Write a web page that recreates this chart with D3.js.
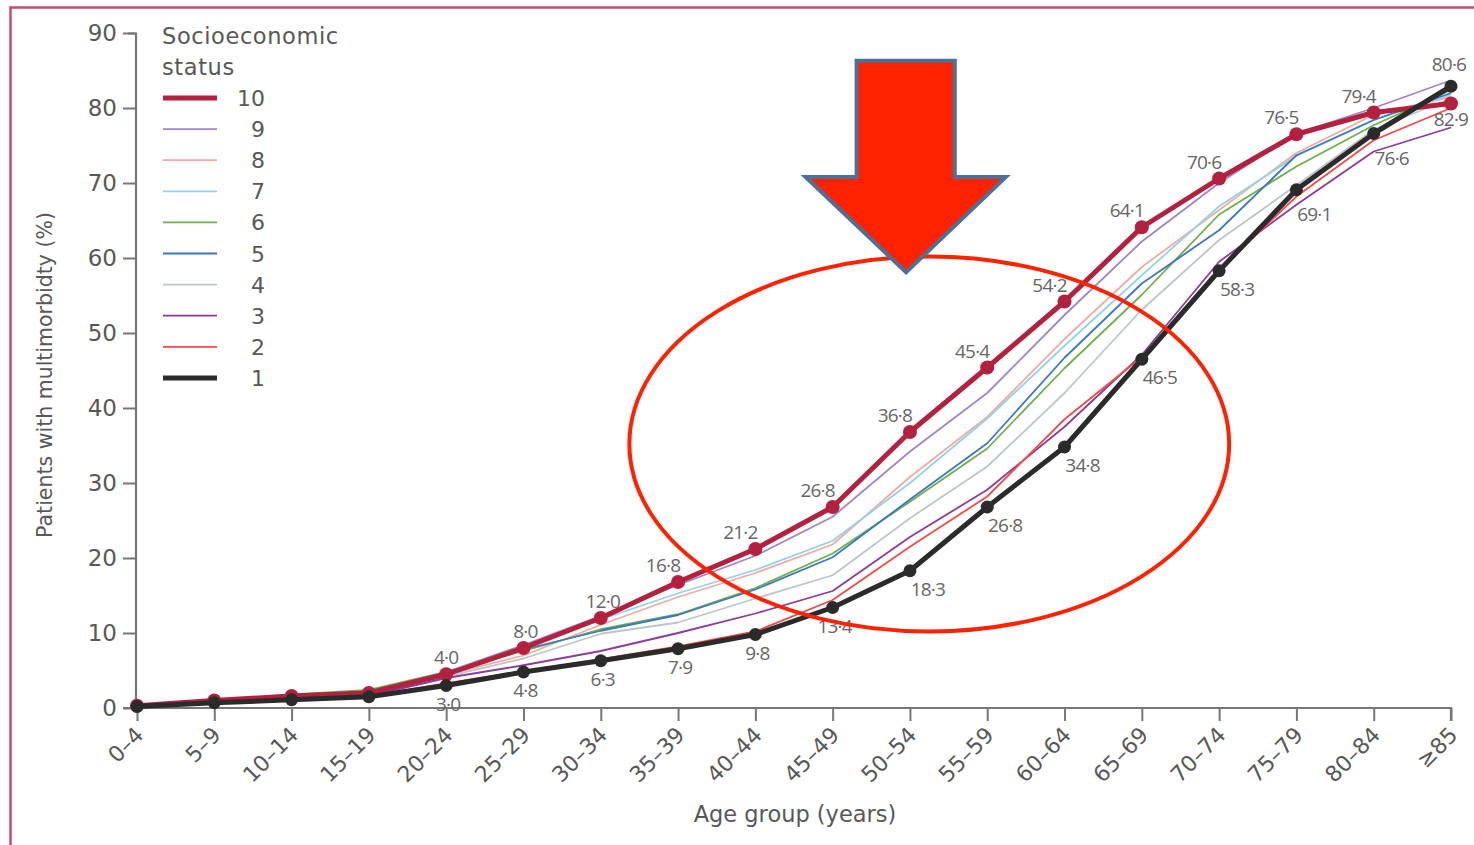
<!DOCTYPE html>
<html><head><meta charset="utf-8">
<script src="https://cdn.jsdelivr.net/npm/d3@7/dist/d3.min.js"></script>
<style>
html,body{margin:0;padding:0;background:#fff;}
svg{display:block;font-family:"DejaVu Sans",sans-serif;}
</style></head><body>
<script>
const ages = ["0–4","5–9","10–14","15–19","20–24","25–29","30–34","35–39","40–44","45–49","50–54","55–59","60–64","65–69","70–74","75–79","80–84","≥85"];
const yTicks = [0,10,20,30,40,50,60,70,80,90];
const seriesNames = ["10","9","8","7","6","5","4","3","2","1"];
const ses10 = [0.3,1.0,1.6,2.0,4.5,8.0,12.0,16.8,21.2,26.8,36.8,45.4,54.2,64.1,70.6,76.5,79.4,80.6];
const ses9  = [0.3,1.0,1.6,2.1,4.8,8.4,12.3,16.4,20.3,25.5,34.2,42.0,52.4,62.2,70.0,76.6,80.0,83.7];
const ses8  = [0.3,0.9,1.4,1.9,4.4,7.0,11.1,14.8,18.0,21.8,30.8,38.8,49.2,58.8,66.4,74.0,79.1,81.5];
const ses7  = [0.3,1.0,1.6,2.0,4.8,8.0,11.8,15.3,18.4,22.3,30.0,38.6,48.3,57.7,66.9,73.6,78.4,81.8];
const ses6  = [0.3,1.0,1.8,2.4,4.8,7.6,10.5,12.5,16.0,20.6,27.5,34.6,45.3,55.1,65.8,72.2,77.7,82.4];
const ses5  = [0.3,1.1,1.6,2.2,4.6,7.8,10.3,12.4,15.8,20.1,27.8,35.3,46.7,56.6,63.7,73.7,78.4,82.0];
const ses4  = [0.2,0.9,1.4,1.8,4.2,6.6,9.9,11.4,14.6,17.7,25.3,32.2,42.0,53.1,62.4,69.7,77.1,81.3];
const ses3  = [0.2,0.8,1.2,1.6,4.0,5.7,7.6,10.0,12.6,15.6,22.8,29.1,37.5,47.1,59.5,67.1,74.2,77.4];
const ses2  = [0.2,0.7,1.1,1.5,3.3,4.9,6.5,8.2,10.2,14.4,21.5,28.2,38.5,46.8,58.4,68.2,75.7,80.0];
const ses1  = [0.2,0.7,1.1,1.5,3.0,4.8,6.3,7.9,9.8,13.4,18.3,26.8,34.8,46.5,58.3,69.1,76.6,82.9];
const labels10 = ["","","","","4·0","8·0","12·0","16·8","21·2","26·8","36·8","45·4","54·2","64·1","70·6","76·5","79·4","82·9"];
const labels1  = ["","","","","3·0","4·8","6·3","7·9","9·8","13·4","18·3","26·8","34·8","46·5","58·3","69·1","76·6","80·6"];
const colors = ["#b3213f","#9f86c9","#f2aaa2","#92d3ea","#6cb14a","#3b78c1","#bcc6ca","#8d3a9b","#f24a45","#2b2b2b"];

const allSeries = [ses10,ses9,ses8,ses7,ses6,ses5,ses4,ses3,ses2,ses1];
const W = 1474, H = 845;
const svg = d3.select("body").append("svg").attr("width",W).attr("height",H);

// frame and (cut) slide title
svg.append("text").attr("x",728).attr("y",5).attr("text-anchor","middle")
  .attr("font-family","Liberation Sans, Arial, sans-serif").attr("font-weight","bold")
  .attr("font-size",40).attr("fill","#000").text("Results");
svg.append("rect").attr("x",0).attr("y",0).attr("width",W).attr("height",7).attr("fill","#fff");
svg.append("path").attr("d",`M10.5,${H} L10.5,7.5 L${W},7.5`).attr("fill","none")
  .attr("stroke","#cc4a72").attr("stroke-width",2.5);

const x = d3.scalePoint().domain(ages).range([137,1451]);
const xi = d3.scaleLinear().domain([0,ages.length-1]).range([137,1451]);
const y = d3.scaleLinear().domain([0,90]).range([708,33]);

const axisColor = "#777", textColor = "#585858";

// y axis
const gy = svg.append("g").attr("transform","translate(136,0)")
  .call(d3.axisLeft(y).tickValues(yTicks).tickSize(13).tickPadding(6));
gy.select(".domain").attr("stroke",axisColor).attr("stroke-width",2.2).attr("d","M-8,33.5H0V708");
gy.selectAll(".tick line").attr("stroke",axisColor).attr("stroke-width",2);
gy.selectAll(".tick text").attr("fill",textColor).attr("font-size",23).attr("font-family","DejaVu Sans, sans-serif");

// x axis
const gx = svg.append("g").attr("transform","translate(0,708)")
  .call(d3.axisBottom(x).tickSize(13).tickPadding(6));
gx.select(".domain").attr("stroke",axisColor).attr("stroke-width",2.2).attr("d","M123,0H1451V13");
gx.selectAll(".tick line").attr("stroke",axisColor).attr("stroke-width",2);
gx.selectAll(".tick text").attr("fill",textColor).attr("font-size",22).attr("font-family","DejaVu Sans, sans-serif")
  .attr("text-anchor","end").attr("x",0).attr("y",0).attr("dy","0.35em")
  .attr("transform","translate(2,23) rotate(-45)");

// axis titles
svg.append("text").attr("x",795).attr("y",822).attr("text-anchor","middle")
  .attr("font-size",22.5).attr("fill",textColor).text("Age group (years)");
svg.append("text").attr("transform","translate(52,375) rotate(-90)").attr("text-anchor","middle")
  .attr("font-size",20.5).attr("fill",textColor).text("Patients with multimorbidty (%)");

// lines
const line = d3.line().x((d,i)=>x(ages[i])).y(d=>y(d));
const order = [1,2,3,4,5,6,7,8,0,9];
order.forEach(k=>{
  const thick = (k===0||k===9);
  svg.append("path").datum(allSeries[k]).attr("d",line).attr("fill","none")
    .attr("stroke",colors[k]).attr("stroke-width",thick?5:1.8).attr("stroke-linejoin","round");
  if(thick){
    svg.append("g").selectAll("circle").data(allSeries[k]).join("circle")
      .attr("cx",(d,i)=>x(ages[i])).attr("cy",d=>y(d)).attr("r",k===0?7:6.5).attr("fill",colors[k]);
  }
});

// data labels
const lblFont = 19, lblColor = "#666", lblFam = "Open Sans, sans-serif";
svg.append("g").selectAll("text").data(ses10).join("text")
  .attr("x",(d,i)=> x(ages[i]) + (i===17 ? 0 : i<5 ? 0 : i<7 ? 2 : -15))
  .attr("y",(d,i)=> y(d) + (i===17 ? 22 : -10))
  .attr("text-anchor","middle").attr("font-size",lblFont).attr("font-family",lblFam).attr("fill",lblColor)
  .attr("letter-spacing","-0.8").text((d,i)=>labels10[i]);
svg.append("g").selectAll("text").data(ses1).join("text")
  .attr("x",(d,i)=> x(ages[i]) + (i===17 ? -2 : i<10 ? 2 : 18))
  .attr("y",(d,i)=> y(d) + (i===17 ? -15 : i>=15 ? 31 : 25))
  .attr("text-anchor","middle").attr("font-size",lblFont).attr("font-family",lblFam).attr("fill",lblColor)
  .attr("letter-spacing","-0.8").text((d,i)=>labels1[i]);

// legend
const lg = svg.append("g");
lg.append("text").attr("x",162).attr("y",44).attr("font-size",22.5).attr("letter-spacing","0.6").attr("fill",textColor).text("Socioeconomic");
lg.append("text").attr("x",162).attr("y",75).attr("font-size",22.5).attr("letter-spacing","0.6").attr("fill",textColor).text("status");
seriesNames.forEach((n,k)=>{
  const yy = 98 + k*31.1;
  lg.append("line").attr("x1",163).attr("x2",217).attr("y1",yy).attr("y2",yy)
    .attr("stroke",colors[k]).attr("stroke-width",(k===0||k===9)?5:1.8);
  lg.append("text").attr("x",265).attr("y",yy+8).attr("text-anchor","end")
    .attr("font-size",22).attr("fill",textColor).text(n);
});

// annotation: ellipse and arrow (in data space)
svg.append("ellipse").attr("cx",xi(10.25)).attr("cy",y(35.2))
  .attr("rx",xi(3.88)-xi(0)).attr("ry",y(0)-y(25))
  .attr("fill","none").attr("stroke","#ff2200").attr("stroke-width",4);
const ax = v=>xi(v), ay = v=>y(v);
const arrowPts = [[9.31,86.3],[10.58,86.3],[10.58,70.8],[11.24,70.8],[9.95,58.1],[8.65,70.8],[9.31,70.8]];
svg.append("path").attr("d", d3.line()(arrowPts.map(p=>[ax(p[0]),ay(p[1])])) + "Z")
  .attr("fill","#ff2200").attr("stroke","#4e6f96").attr("stroke-width",4).attr("stroke-linejoin","miter");
</script>
</body></html>
